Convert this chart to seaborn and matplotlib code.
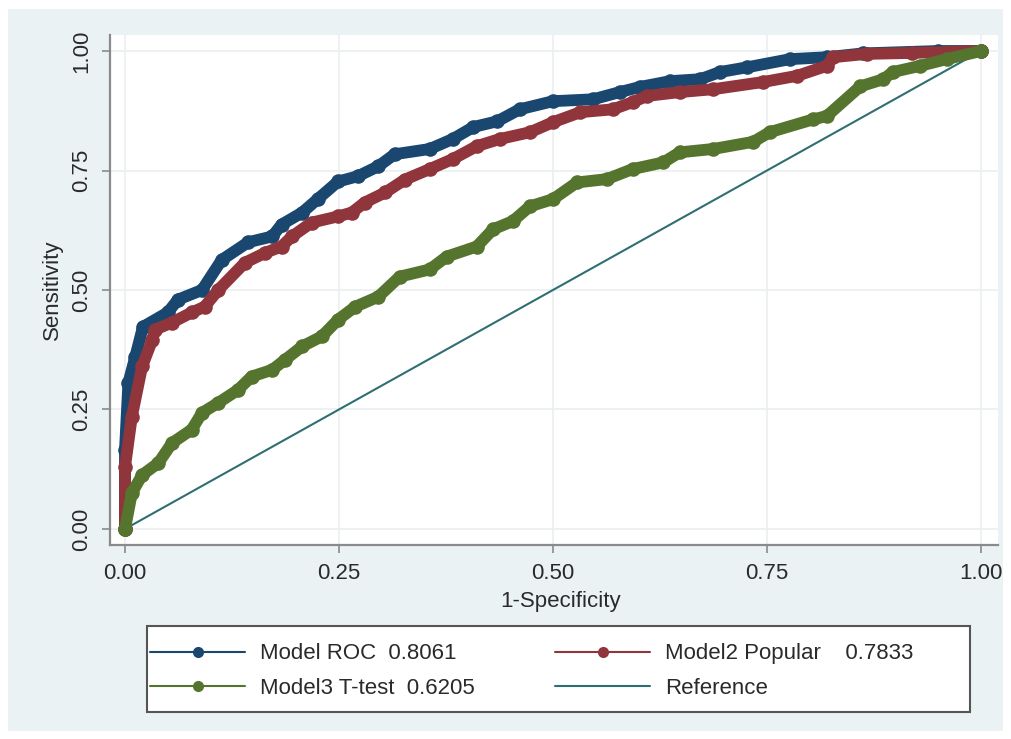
import matplotlib
matplotlib.use("Agg")
import matplotlib.pyplot as plt
from matplotlib.lines import Line2D
from matplotlib.patches import Rectangle
import seaborn as sns

# ROC points
roc_x = [0, 0.0, 0.004, 0.012, 0.021, 0.05, 0.062, 0.09, 0.113, 0.144, 0.172, 0.183,
         0.207, 0.225, 0.249, 0.272, 0.296, 0.315, 0.356, 0.383, 0.407, 0.435, 0.461,
         0.5, 0.547, 0.578, 0.602, 0.637, 0.672, 0.695, 0.727, 0.777, 0.82, 0.862, 0.95, 1.0]
roc_y = [0, 0.166, 0.306, 0.36, 0.423, 0.453, 0.48, 0.5, 0.563, 0.6, 0.612, 0.637,
         0.662, 0.69, 0.727, 0.738, 0.759, 0.784, 0.795, 0.816, 0.841, 0.853, 0.878,
         0.895, 0.899, 0.914, 0.925, 0.937, 0.941, 0.956, 0.966, 0.983, 0.987, 0.995, 1.0, 1.0]

popular_x = [0, 0.0, 0.008, 0.02, 0.032, 0.035, 0.055, 0.078, 0.093, 0.109, 0.14, 0.164,
             0.183, 0.195, 0.218, 0.249, 0.265, 0.28, 0.304, 0.327, 0.356, 0.383, 0.411,
             0.438, 0.473, 0.5, 0.532, 0.57, 0.593, 0.61, 0.648, 0.687, 0.745, 0.785,
             0.82, 0.827, 0.867, 0.92, 1.0]
popular_y = [0, 0.13, 0.235, 0.34, 0.396, 0.417, 0.432, 0.453, 0.465, 0.5, 0.557, 0.578,
             0.591, 0.612, 0.641, 0.654, 0.662, 0.683, 0.704, 0.731, 0.753, 0.774, 0.801,
             0.816, 0.83, 0.851, 0.872, 0.878, 0.893, 0.906, 0.914, 0.92, 0.935, 0.948,
             0.969, 0.987, 0.994, 0.996, 1.0]

ttest_x = [0, 0.008, 0.02, 0.039, 0.055, 0.078, 0.09, 0.109, 0.132, 0.148, 0.172, 0.187,
           0.207, 0.23, 0.249, 0.269, 0.296, 0.321, 0.356, 0.376, 0.411, 0.43, 0.453,
           0.473, 0.5, 0.528, 0.563, 0.593, 0.629, 0.648, 0.687, 0.734, 0.753, 0.804,
           0.82, 0.859, 0.886, 0.897, 0.929, 0.96, 1.0]
ttest_y = [0, 0.075, 0.113, 0.138, 0.18, 0.208, 0.243, 0.264, 0.291, 0.319, 0.333, 0.354,
           0.382, 0.403, 0.438, 0.465, 0.486, 0.528, 0.543, 0.57, 0.591, 0.627, 0.644,
           0.675, 0.69, 0.725, 0.732, 0.753, 0.767, 0.788, 0.795, 0.81, 0.83, 0.857,
           0.864, 0.926, 0.941, 0.956, 0.969, 0.983, 1.0]

ref_x = [0, 1]
ref_y = [0, 1]

labels = ["Model ROC  0.8061", "Model3 T-test  0.6205",
          "Model2 Popular    0.7833", "Reference"]
ticks = [0, 0.25, 0.5, 0.75, 1.0]
tick_labels = ["0.00", "0.25", "0.50", "0.75", "1.00"]

NAVY, MAROON, GREEN, TEAL = "#1A476F", "#90353B", "#55752F", "#2F6F73"
TXT = "#2A2A2A"
FS = 16

sns.set_theme(style="white")
plt.rcParams["font.family"] = ["Liberation Sans", "DejaVu Sans"]

W, H = 1011, 739
fig = plt.figure(figsize=(W / 100, H / 100), dpi=100)
fig.patch.set_facecolor("white")
fig.add_artist(Rectangle((8 / W, 1 - 731 / H), 995 / W, 722 / H,
                         transform=fig.transFigure, facecolor="#EAF2F3",
                         edgecolor="none", zorder=-10))

ax = fig.add_axes([110 / W, 1 - 545 / H, 888 / W, 510 / H])
ax.set_facecolor("white")

# --- curves ---
sns.lineplot(x=ref_x, y=ref_y, ax=ax, color=TEAL, lw=1.5, sort=False, estimator=None)
for xs, ys, c in [(roc_x, roc_y, NAVY), (popular_x, popular_y, MAROON),
                  (ttest_x, ttest_y, GREEN)]:
    sns.lineplot(x=xs, y=ys, ax=ax, color=c, lw=8.5, sort=False, estimator=None,
                 marker="o", markersize=10.5, markeredgewidth=0,
                 solid_joinstyle="round", solid_capstyle="round")

# --- axes styling (Stata s2color look) ---
ax.set_xlim(-0.0175, 1.0199)
ax.set_ylim(-0.0335, 1.0335)
ax.set_xticks(ticks)
ax.set_xticklabels(tick_labels)
ax.set_yticks(ticks)
ax.set_yticklabels(tick_labels, rotation=90, va="center")
ax.grid(True, color="#EAEFF0", lw=1.2)
for s in ["top", "right"]:
    ax.spines[s].set_visible(False)
for s in ["left", "bottom"]:
    ax.spines[s].set_color("#8A8A8A")
    ax.spines[s].set_linewidth(1.6)
ax.tick_params(axis="both", which="major", direction="out", length=6, width=1.2,
               color="#8A8A8A", labelsize=FS, labelcolor=TXT, pad=7,
               left=True, bottom=True)

ax.set_xlabel("1-Specificity", fontsize=FS, color=TXT)
ax.set_ylabel("Sensitivity", fontsize=FS, color=TXT)
ax.xaxis.set_label_coords((561 - 110) / 888, (545 - 601) / 510)
ax.xaxis.label.set_va("center")
ax.yaxis.set_label_coords((52 - 110) / 888, 0.5)
ax.yaxis.label.set_va("center")

# --- legend: frame drawn separately so the columns sit like Stata's ---
fig.add_artist(Rectangle((147 / W, 1 - 712 / H), 823 / W, 86 / H,
                         transform=fig.transFigure, facecolor="white",
                         edgecolor="#555555", lw=1.5, zorder=1))
handles = [Line2D([0], [0], color=c, lw=1.5, marker="o", markersize=8,
                  markeredgewidth=0) for c in [NAVY, GREEN, MAROON]]
handles.append(Line2D([0], [0], color=TEAL, lw=1.5))

fs_px = FS * 100 / 72
handle_px, text_x1, col2_x = 95, 260, 555
leg_kw = dict(ncol=2, loc="center left", bbox_to_anchor=(150 / W, 1 - 671 / H),
              frameon=False, fontsize=FS, handlelength=handle_px / fs_px,
              handletextpad=(text_x1 - 150 - handle_px) / fs_px,
              labelspacing=0.6, borderpad=0, borderaxespad=0)

# measure first-column label widths, then set the gap so column 2 starts at col2_x
leg = fig.legend(handles, labels, columnspacing=2, **leg_kw)
fig.canvas.draw()
col1_w = max(t.get_window_extent().width for t in leg.get_texts()[:2])
leg.remove()
gap = (col2_x - (text_x1 + col1_w)) / fs_px
leg = fig.legend(handles, labels, columnspacing=gap, **leg_kw)
leg.set_zorder(2)
for t in leg.get_texts():
    t.set_color(TXT)

fig.savefig("out.png", dpi=100, facecolor=fig.get_facecolor())
